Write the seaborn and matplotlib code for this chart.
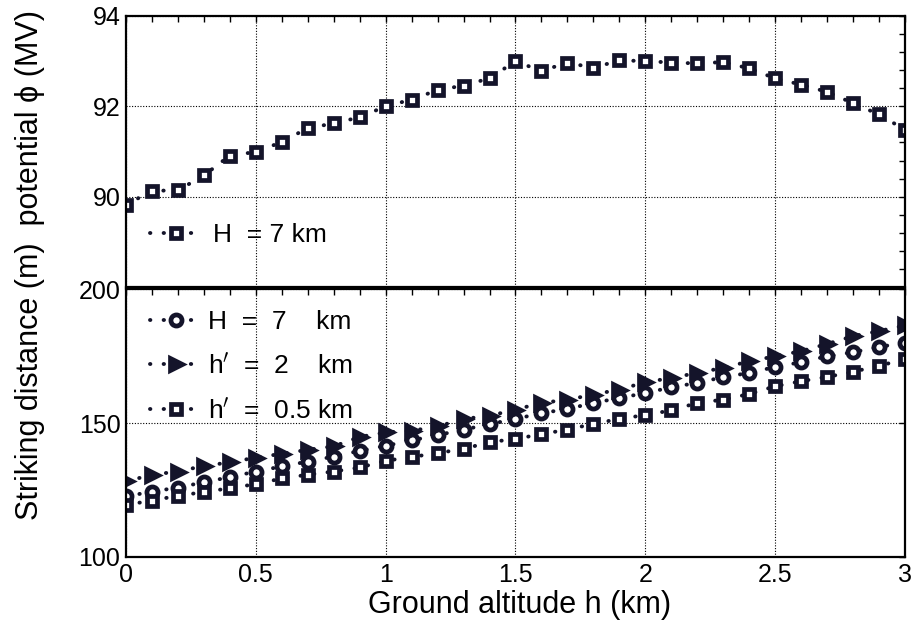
import numpy as np
import pandas as pd
import matplotlib
matplotlib.use("Agg")
import matplotlib.pyplot as plt
import seaborn as sns
from matplotlib.ticker import MultipleLocator, FixedLocator

sns.set_theme(style="white")
plt.rcParams['font.family'] = ['Liberation Sans', 'DejaVu Sans']
plt.rcParams['text.color'] = 'black'
plt.rcParams['xtick.color'] = 'black'
plt.rcParams['ytick.color'] = 'black'
plt.rcParams['axes.labelcolor'] = 'black'

altitude = [round(0.1 * i, 1) for i in range(31)]
potential_H7 = [89.82, 90.13, 90.14, 90.47, 90.91, 90.99, 91.21, 91.52, 91.62, 91.76,
                92.00, 92.15, 92.36, 92.46, 92.62, 93.00, 92.78, 92.97, 92.85, 93.02,
                93.00, 92.97, 92.95, 92.98, 92.84, 92.62, 92.48, 92.32, 92.07, 91.82, 91.48]
strike_H7 = [122.6, 124.4, 125.9, 127.9, 129.8, 131.9, 133.8, 135.6, 137.5, 139.6,
             141.5, 143.5, 145.5, 147.5, 149.6, 151.5, 153.7, 155.2, 157.5, 159.3,
             161.2, 163.3, 165.0, 167.1, 168.7, 170.9, 172.7, 174.9, 176.4, 178.4, 179.9]
strike_h2 = [128.2, 130.7, 131.9, 134.0, 135.3, 137.1, 138.5, 140.0, 141.3, 144.8,
             146.5, 147.1, 148.7, 151.5, 152.7, 155.0, 157.5, 158.7, 160.6, 162.5,
             165.2, 166.8, 168.7, 170.6, 173.0, 174.9, 176.8, 179.5, 182.4, 184.3, 186.4]
strike_h05 = [119.5, 121.0, 122.9, 124.2, 125.7, 127.2, 129.3, 130.7, 131.9, 133.4,
              135.9, 137.3, 138.8, 140.3, 142.9, 144.0, 145.9, 147.5, 149.7, 151.5,
              153.0, 154.7, 157.5, 158.7, 160.8, 163.7, 165.6, 167.2, 169.1, 171.4, 173.7]

top_label = "H  = 7 km"
bottom_labels = ["H  =  7    km", "h$'$  =  2    km", "h$'$  =  0.5 km"]
x_ticks = [0, 0.5, 1, 1.5, 2, 2.5, 3]
x_tick_labels = ["0", "0.5", "1", "1.5", "2", "2.5", "3"]

df_top = pd.DataFrame({"h": altitude, "phi": potential_H7})
df_bot = pd.DataFrame({"h": altitude, "H7": strike_H7, "h2": strike_h2, "h05": strike_h05})

col = "#14142a"
dot = (0, (0.1, 3.4))

fig = plt.figure(figsize=(9.16, 6.31), dpi=100)
ax1 = fig.add_axes([126/916, 1-287/631, (905-126)/916, (287-16)/631])
ax2 = fig.add_axes([126/916, 1-557/631, (905-126)/916, (557-289)/631])

common = dict(color=col, linestyle=dot, linewidth=2.8, dash_capstyle='round',
              markeredgecolor=col, markeredgewidth=3.4)

sns.lineplot(data=df_top, x="h", y="phi", ax=ax1, marker='s', markersize=7.5,
             markerfacecolor='white', label=top_label, **common)

sns.lineplot(data=df_bot, x="h", y="H7", ax=ax2, marker='o', markersize=8,
             markerfacecolor='white', label=bottom_labels[0], **common)
sns.lineplot(data=df_bot, x="h", y="h2", ax=ax2, marker='>', markersize=9,
             markerfacecolor=col, label=bottom_labels[1], **common)
sns.lineplot(data=df_bot, x="h", y="h05", ax=ax2, marker='s', markersize=7.5,
             markerfacecolor='white', label=bottom_labels[2], **common)

for ax in (ax1, ax2):
    ax.set_xlim(0, 3)
    ax.set_xlabel("")
    ax.set_ylabel("")
    ax.xaxis.set_major_locator(FixedLocator(x_ticks))
    ax.xaxis.set_minor_locator(MultipleLocator(0.1))
    ax.grid(True, which='major', color='black', linestyle=(0, (1, 1.5)), linewidth=0.8)
    ax.tick_params(which='both', direction='in', top=True, right=True, length=4,
                   width=1, color='black', labelcolor='black', labelsize=18, pad=4)
    for s in ax.spines.values():
        s.set_color('black')
        s.set_linewidth(1.6)
    ax.set_facecolor('white')

ax1.set_ylim(88, 94)
ax1.yaxis.set_major_locator(FixedLocator([88, 90, 92, 94]))
ax1.yaxis.set_minor_locator(MultipleLocator(0.4))
ax1.set_yticklabels(["", "90", "92", "94"])
ax1.set_xticklabels([])

ax2.set_ylim(100, 200)
ax2.yaxis.set_major_locator(FixedLocator([100, 150, 200]))
ax2.set_yticklabels(["100", "150", "200"])
ax2.set_xticklabels(x_tick_labels)

leg1 = ax1.legend(loc='lower left', bbox_to_anchor=(0.0, 0.06), frameon=False,
                  fontsize=19, handlelength=2.0, handletextpad=0.4)
leg2 = ax2.legend(loc='upper left', bbox_to_anchor=(0.0, 1.01), frameon=False,
                  fontsize=19, handlelength=2.0, handletextpad=0.2, labelspacing=0.7)

fig.text(30/916, 1-265/631, "Striking distance (m)  potential ϕ (MV)", rotation=90,
         ha='center', va='center', fontsize=22, color='black')
fig.text(520/916, 1-605/631, "Ground altitude h (km)", ha='center', va='center',
         fontsize=22, color='black')

fig.savefig("out.png", dpi=100, facecolor='white')
